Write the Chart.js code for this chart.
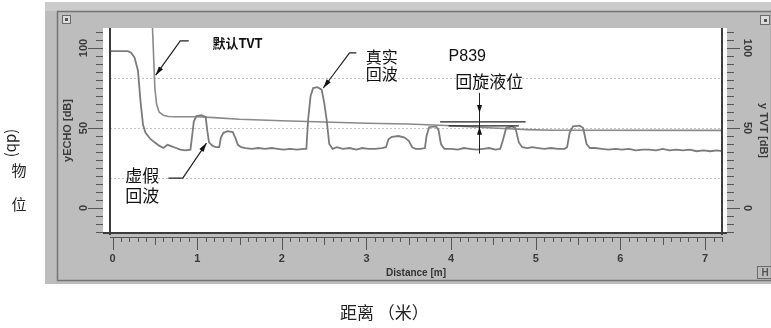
<!DOCTYPE html>
<html lang="zh">
<head>
<meta charset="utf-8">
<title>回波曲线</title>
<script src="https://cdn.jsdelivr.net/npm/chart.js@4.4.1/dist/chart.umd.min.js"></script>
<style>
  html, body { margin: 0; padding: 0; background: #fff; }
  canvas { display: block; }
</style>
</head>
<body>
<canvas id="echoChart" width="771" height="328"></canvas>
<script>
// 回波曲线 - 数值从原图上读出 (距离 m, 幅值 dB)
const echoDist = [-0.02, 0.10, 0.18, 0.22, 0.26, 0.30, 0.33, 0.36, 0.39, 0.42, 0.45, 0.50, 0.55, 0.60, 0.65, 0.70,
  0.75, 0.80, 0.86, 0.92, 0.94, 0.96, 0.99, 1.05, 1.10, 1.12, 1.14, 1.18, 1.22, 1.26, 1.28, 1.31, 1.36, 1.42, 1.45,
  1.48, 1.52, 1.57, 1.65, 1.72, 1.80, 1.88, 1.95, 2.02, 2.10, 2.18, 2.26, 2.29, 2.31, 2.34, 2.37, 2.42, 2.47, 2.50,
  2.53, 2.56, 2.60, 2.65, 2.72, 2.80, 2.88, 2.95, 3.02, 3.10, 3.18, 3.23, 3.26, 3.30, 3.38, 3.45, 3.50, 3.54, 3.58,
  3.64, 3.69, 3.71, 3.74, 3.82, 3.85, 3.88, 3.92, 4.00, 4.08, 4.15, 4.22, 4.30, 4.38, 4.45, 4.52, 4.58, 4.61, 4.65,
  4.72, 4.76, 4.80, 4.84, 4.90, 4.96, 5.03, 5.10, 5.18, 5.26, 5.34, 5.37, 5.40, 5.44, 5.52, 5.56, 5.60, 5.64, 5.70,
  5.78, 5.86, 5.94, 6.02, 6.10, 6.18, 6.26, 6.34, 6.42, 6.50, 6.58, 6.66, 6.74, 6.82, 6.90, 6.98, 7.06, 7.14, 7.20];
const echoDb = [98, 98, 98, 97, 94, 86, 67, 52, 47, 45, 43, 41, 39, 37.5, 39.5, 38.5,
  37.5, 36.5, 36, 36.5, 45, 54, 57.5, 58, 57, 48, 41, 39, 38, 38, 44, 47, 48, 47.5, 44,
  39.5, 38, 37.5, 37, 37.5, 37, 37.5, 37, 36.5, 37, 36.5, 37, 37, 55, 70, 75, 75.5, 74, 66,
  55, 40, 37, 38, 37, 37.5, 36.5, 37.5, 37, 37, 37.5, 38, 43, 44.5, 45, 44, 42, 38, 37,
  37, 37.5, 45, 50.5, 51, 49, 40, 37, 37, 36.5, 37.5, 37, 36.5, 37, 37.5, 36.5, 37, 42, 50,
  51, 50, 41, 38, 37.5, 38, 37.5, 37, 37.5, 37, 37, 38, 47, 51, 51.5, 50, 40, 37.5, 37.5,
  37, 36.5, 37, 36.5, 37, 36, 36.5, 36.5, 36, 37, 36, 36.5, 36, 36.5, 35.5, 36, 35.5, 36, 35.5];

const tvtDist = [0.47, 0.50, 0.52, 0.55, 0.60, 0.66, 0.75, 1.00, 1.20, 1.50, 2.00, 2.50, 3.00, 3.50, 4.00, 4.50, 4.90, 5.20, 7.20];
const tvtDb = [115, 75, 65, 60, 58, 57.2, 57, 57, 56.5, 55.5, 54.5, 53.8, 53, 52.5, 51.4, 50, 49, 48.6, 48.5];

const distTicks = [0, 1, 2, 3, 4, 5, 6, 7];
const dbTicks = [0, 50, 100];
const dottedLevels = [19, 50, 81];

// 图中的文字标注 (数据坐标)
const notes = [
  { text: ['默认TVT'], x: 1.18, y: 103, size: 13, weight: 'bold', gap: 0, leader: [[0.90, 104.4], [0.80, 104.4], [0.51, 83]] },
  { text: ['真实', '回波'], x: 2.99, y: 94.4, size: 16, gap: 16.5, leader: [[2.88, 97], [2.80, 97], [2.49, 75]] },
  { text: ['虚假', '回波'], x: 0.15, y: 20.6, size: 17, gap: 20, leader: [[0.66, 18.75], [0.83, 18.75], [1.11, 40.6]] },
  { text: ['P839'], x: 3.97, y: 94.4, size: 16, latin: true },
  { text: ['回旋液位'], x: 4.05, y: 78.75, size: 17 }
];
const levelMark = { x: 4.33, top: 72, bottom: 34, downTip: 59.4, upTip: 50.8, bars: [[3.87, 4.88, 53.8], [3.97, 4.80, 51.3]] };

const CJK = '"Noto Sans CJK SC", sans-serif';
const LATIN = '"Liberation Sans", Arial, sans-serif';

function line(ctx, x1, y1, x2, y2) {
  ctx.beginPath();
  ctx.moveTo(x1, y1);
  ctx.lineTo(x2, y2);
  ctx.stroke();
}

function arrowHead(ctx, fx, fy, tx, ty, len, half) {
  const a = Math.atan2(ty - fy, tx - fx);
  ctx.beginPath();
  ctx.moveTo(tx, ty);
  ctx.lineTo(tx - len * Math.cos(a) + half * Math.sin(a), ty - len * Math.sin(a) - half * Math.cos(a));
  ctx.lineTo(tx - len * Math.cos(a) - half * Math.sin(a), ty - len * Math.sin(a) + half * Math.cos(a));
  ctx.closePath();
  ctx.fill();
}

// 刻度尺样式的小刻度
function drawRuler(ctx, scale, from, to, step, edge, dir, lens, majorEvery, midEvery) {
  const n = Math.round((to - from) / step);
  for (let k = 0; k <= n; k++) {
    const v = from + k * step;
    const idx = Math.round(v / step);
    let len = lens[0];
    if (idx % majorEvery === 0) len = lens[2];
    else if (midEvery && idx % midEvery === 0) len = lens[1];
    const p = Math.round(scale.getPixelForValue(v)) + 0.5;
    if (scale.isHorizontal()) line(ctx, p, edge, p, edge + dir * len);
    else line(ctx, edge, p, edge + dir * len, p);
  }
}

const frameDeco = {
  id: 'frameDeco',
  beforeDraw(chart) {
    const { ctx, chartArea: a } = chart;
    const y = chart.scales.yEcho;
    ctx.save();
    // 灰色外框
    ctx.fillStyle = '#bdbdbd';
    ctx.fillRect(45, 2, 726, 282);
    ctx.fillStyle = '#cbcbcb';
    ctx.fillRect(45, 2, 726, 9);
    ctx.strokeStyle = '#747474';
    ctx.lineWidth = 1.5;
    ctx.strokeRect(57.5, 11.5, 714, 269);
    // 白色绘图区
    ctx.fillStyle = '#fff';
    ctx.fillRect(a.left - 7, a.top, a.right - a.left + 12, a.bottom - a.top);
    // 点状水平线
    ctx.strokeStyle = '#c2c2c2';
    ctx.lineWidth = 1;
    ctx.setLineDash([2, 2]);
    dottedLevels.forEach(v => {
      const py = Math.round(y.getPixelForValue(v)) + 0.5;
      line(ctx, a.left, py, a.right, py);
    });
    ctx.restore();
  },
  afterDatasetsDraw(chart) {
    const { ctx, chartArea: a } = chart;
    const x = chart.scales.x;
    const y = chart.scales.yEcho;
    const yr = chart.scales.yTvt;
    ctx.save();
    // 边框
    ctx.strokeStyle = '#3c3c3c';
    ctx.lineWidth = 2;
    line(ctx, a.left, a.top, a.left, a.bottom + 2);
    line(ctx, a.right, a.top, a.right, a.bottom + 2);
    line(ctx, a.left - 7, a.bottom, a.right + 5, a.bottom);
    ctx.lineWidth = 1;
    ctx.strokeStyle = '#555';
    line(ctx, a.left, a.bottom + 4.5, a.right, a.bottom + 4.5);
    // 刻度
    drawRuler(ctx, x, 0, 7.2, 0.1, a.bottom + 4, 1, [5, 8, 13], 10, 5);
    drawRuler(ctx, y, -15, 110, 5, a.left - 7, -1, [7, 7, 15], 10, 0);
    drawRuler(ctx, yr, -15, 110, 5, a.right + 5, 1, [7, 7, 13], 10, 0);

    // 标注
    ctx.fillStyle = '#111';
    ctx.strokeStyle = '#222';
    ctx.lineWidth = 1.2;
    ctx.textAlign = 'left';
    ctx.textBaseline = 'middle';
    notes.forEach(n => {
      const family = n.latin ? LATIN : CJK;
      ctx.font = (n.weight || 'normal') + ' ' + n.size + 'px ' + family;
      const px = x.getPixelForValue(n.x);
      const py = y.getPixelForValue(n.y);
      n.text.forEach((t, i) => ctx.fillText(t, px, py + i * (n.gap || 0)));
      if (n.leader) {
        const pts = n.leader.map(p => [x.getPixelForValue(p[0]), y.getPixelForValue(p[1])]);
        ctx.beginPath();
        ctx.moveTo(pts[0][0], pts[0][1]);
        pts.slice(1).forEach(p => ctx.lineTo(p[0], p[1]));
        ctx.stroke();
        const last = pts[pts.length - 1];
        const prev = pts[pts.length - 2];
        arrowHead(ctx, prev[0], prev[1], last[0], last[1], 9, 2.5);
      }
    });
    // P839 液位标记
    const mx = Math.round(x.getPixelForValue(levelMark.x)) + 0.5;
    ctx.lineWidth = 1;
    line(ctx, mx, y.getPixelForValue(levelMark.top), mx, y.getPixelForValue(levelMark.bottom));
    arrowHead(ctx, mx, 0, mx, y.getPixelForValue(levelMark.downTip), 8, 2.5);
    arrowHead(ctx, mx, 400, mx, y.getPixelForValue(levelMark.upTip), 8, 2.5);
    ctx.lineWidth = 1.3;
    levelMark.bars.forEach(b => {
      const py = y.getPixelForValue(b[2]);
      line(ctx, x.getPixelForValue(b[0]), py, x.getPixelForValue(b[1]), py);
    });
    ctx.restore();
  },
  afterDraw(chart) {
    const ctx = chart.ctx;
    ctx.save();
    // 小图标
    ctx.fillStyle = '#dcdcdc';
    ctx.strokeStyle = '#6a6a6a';
    ctx.lineWidth = 1;
    ctx.fillRect(62, 15, 9, 9);
    ctx.strokeRect(62.5, 15.5, 8, 8);
    ctx.fillRect(760, 15, 10, 10);
    ctx.strokeRect(760.5, 15.5, 9, 9);
    ctx.fillStyle = '#555';
    ctx.fillRect(65, 18, 3, 3);
    ctx.fillRect(764, 19, 3, 3);
    ctx.strokeRect(757.5, 266.5, 14, 12);
    ctx.font = 'bold 10px ' + LATIN;
    ctx.textAlign = 'center';
    ctx.textBaseline = 'middle';
    ctx.fillText('H', 765, 273);

    // 外部文字
    ctx.fillStyle = '#222';
    ctx.font = '15px ' + CJK;
    ctx.save();
    ctx.translate(13, 143);
    ctx.rotate(Math.PI / 2);
    ctx.fillText('(db)', 0, 0);
    ctx.restore();
    ctx.fillText('物', 19, 170);
    ctx.fillText('位', 19, 204);
    ctx.font = '17px ' + CJK;
    ctx.textAlign = 'left';
    ctx.fillText('距离 （米）', 340, 313);
    ctx.restore();
  }
};

const tickFont = { family: LATIN, size: 11, weight: 'bold' };

new Chart(document.getElementById('echoChart'), {
  type: 'line',
  data: {
    datasets: [
      {
        label: 'ECHO',
        data: echoDist.map((d, i) => ({ x: d, y: echoDb[i] })),
        yAxisID: 'yEcho',
        borderColor: '#7b7b7b',
        borderWidth: 1.8,
        pointRadius: 0,
        tension: 0
      },
      {
        label: 'TVT',
        data: tvtDist.map((d, i) => ({ x: d, y: tvtDb[i] })),
        yAxisID: 'yTvt',
        borderColor: '#8a8a8a',
        borderWidth: 1.6,
        pointRadius: 0,
        tension: 0
      }
    ]
  },
  options: {
    responsive: false,
    animation: false,
    layout: { padding: { left: 45, right: 0, top: 28, bottom: 45 } },
    plugins: { legend: { display: false }, tooltip: { enabled: false } },
    scales: {
      x: {
        type: 'linear',
        min: -0.03,
        max: 7.2,
        afterBuildTicks: s => { s.ticks = distTicks.map(v => ({ value: v })); },
        afterFit: s => { s.height = 50; },
        grid: { display: false },
        border: { display: false },
        ticks: { font: tickFont, color: '#3a3a3a', padding: 11, maxRotation: 0, autoSkip: false },
        title: { display: true, text: 'Distance [m]', font: { family: LATIN, size: 10, weight: 'bold' }, color: '#333', padding: { top: 0, bottom: 4 } }
      },
      yEcho: {
        position: 'left',
        min: -15.6,
        max: 112.5,
        afterBuildTicks: s => { s.ticks = dbTicks.map(v => ({ value: v })); },
        afterFit: s => { s.width = 65; },
        grid: { display: false },
        border: { display: false },
        ticks: { font: tickFont, color: '#3a3a3a', minRotation: 90, maxRotation: 90, crossAlign: 'center', padding: 9 },
        title: { display: true, text: 'yECHO [dB]', font: { family: LATIN, size: 11, weight: 'bold' }, color: '#3a3a3a', padding: { top: 16, bottom: 0 } }
      },
      yTvt: {
        position: 'right',
        min: -15.6,
        max: 112.5,
        afterBuildTicks: s => { s.ticks = dbTicks.map(v => ({ value: v })); },
        afterFit: s => { s.width = 49; },
        grid: { display: false },
        border: { display: false },
        ticks: { font: tickFont, color: '#3a3a3a', minRotation: -90, maxRotation: -90, crossAlign: 'center', padding: 8 },
        title: { display: true, text: 'y TVT [dB]', font: { family: LATIN, size: 11, weight: 'bold' }, color: '#3a3a3a', padding: { top: 1, bottom: 0 } }
      }
    }
  },
  plugins: [frameDeco]
});
</script>
</body>
</html>
